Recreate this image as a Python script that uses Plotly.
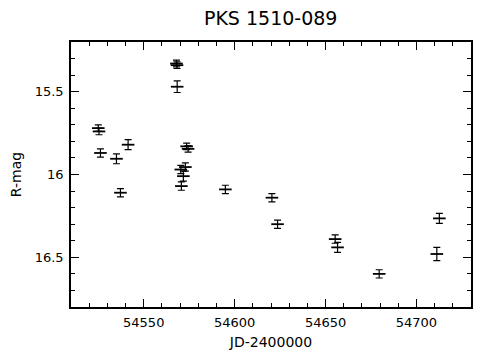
import plotly.graph_objects as go

jd = [54525.0, 54525.4, 54526.2, 54535.0, 54537.2, 54541.4,
      54568.0, 54568.3, 54568.4, 54570.4, 54572.9, 54571.8, 54570.7,
      54573.6, 54574.4, 54594.9, 54620.5, 54623.6, 54655.3, 54656.6,
      54679.5, 54711.2, 54712.6]
rmag = [15.72, 15.74, 15.87, 15.905, 16.11, 15.82,
        15.33, 15.34, 15.47, 15.97, 15.955, 16.01, 16.07,
        15.83, 15.845, 16.09, 16.14, 16.30, 16.39, 16.44,
        16.60, 16.48, 16.265]
rerr = [0.02, 0.02, 0.025, 0.03, 0.025, 0.03,
        0.02, 0.02, 0.035, 0.025, 0.025, 0.03, 0.025,
        0.02, 0.02, 0.025, 0.025, 0.025, 0.025, 0.03,
        0.025, 0.04, 0.03]

xticks = [54550, 54600, 54650, 54700]
yticks = [15.5, 16, 16.5]
ytick_labels = ["15.5", "16", "16.5"]

font = "DejaVu Sans"

fig = go.Figure()
fig.add_trace(go.Scatter(
    x=jd, y=rmag, mode="markers",
    marker=dict(symbol="line-ew", size=9, color="black",
                line=dict(color="black", width=1.8)),
    error_y=dict(type="data", array=rerr, visible=True,
                 color="black", thickness=1.2, width=3.5),
    showlegend=False,
))

axis_common = dict(
    showline=True, linecolor="black", linewidth=1.5, mirror="allticks",
    ticks="inside", ticklen=8, tickwidth=1, tickcolor="black",
    showgrid=False, zeroline=False, automargin=False,
    tickfont=dict(family=font, size=13, color="black"),
)

fig.update_xaxes(
    range=[54510, 54730], tickvals=xticks,
    ticktext=[str(v) for v in xticks],
    minor=dict(dtick=10, ticks="inside", ticklen=4, tickcolor="black", showgrid=False),
    title=dict(text="JD-2400000", font=dict(family=font, size=14, color="black"), standoff=8),
    ticklabelstandoff=3,
    **axis_common,
)
fig.update_yaxes(
    range=[16.8, 15.2], tickvals=yticks, ticktext=ytick_labels,
    minor=dict(dtick=0.1, ticks="inside", ticklen=4, tickcolor="black", showgrid=False),
    title=dict(text="R-mag", font=dict(family=font, size=14, color="black"), standoff=10),
    ticklabelstandoff=3,
    **axis_common,
)

fig.update_layout(
    width=489, height=355,
    margin=dict(l=71, r=18, t=42, b=48),
    paper_bgcolor="white", plot_bgcolor="white",
    title=dict(text="PKS 1510-089", x=0.5536, xanchor="center", y=0.948, yanchor="middle",
               font=dict(family=font, size=19, color="black")),
)

fig.write_html("out.html",
               config={"displayModeBar": False},
               post_script="document.body.style.margin='0';document.body.style.padding='0';")
